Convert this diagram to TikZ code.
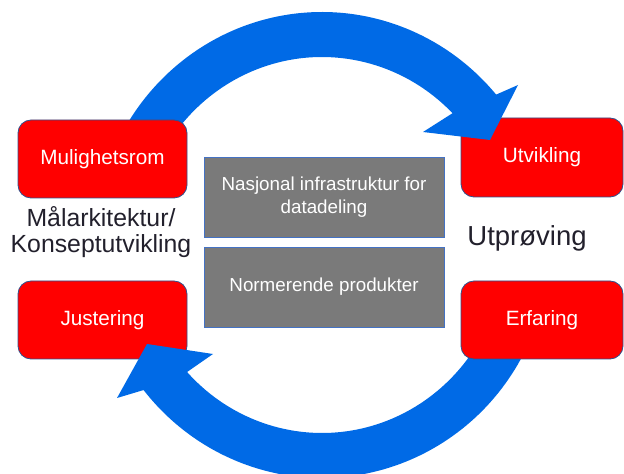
\documentclass[tikz,border=0pt]{standalone}
\usepackage{fontspec}
\setmainfont{Liberation Sans}
\usetikzlibrary{calc}
\definecolor{cycleblue}{RGB}{0,106,230}
\definecolor{boxred}{RGB}{255,0,0}
\definecolor{rededge}{RGB}{47,82,143}
\definecolor{panelgray}{RGB}{122,122,122}
\definecolor{paneledge}{RGB}{68,114,196}
\definecolor{labeltext}{RGB}{34,32,44}
\begin{document}
\begin{tikzpicture}[x=1pt,y=1pt,
  phase/.style={fill=boxred,draw=rededge,line width=0.8pt,rounded corners=13pt},
  phasetext/.style={text=white,font=\fontsize{20.7}{24}\selectfont},
  panel/.style={fill=panelgray,draw=paneledge,line width=0.8pt},
  paneltext/.style={text=white,align=center,font=\fontsize{18.8}{23}\selectfont},
  steptext/.style={text=labeltext,align=center}]
\useasboundingbox (0,0) rectangle (624,474);
\coordinate (C) at (322,229);

% boxes that the arrow heads lie on
\draw[phase] (461,277) rectangle (623,356);
\node[phasetext] (utv) at (542,316.5) {Utvikling};
\draw[phase] (18,115) rectangle (187,193);
\node[phasetext] (just) at (102.5,154) {Justering};

% upper cycle arrow
\fill[cycleblue] ($(C)+(155:228pt and 233pt)$)
  arc[start angle=155,end angle=40.2,x radius=228pt,y radius=233pt]
  -- (518,389) -- (490,334) -- (423,342)
  -- ($(C)+(44.5:183pt and 188pt)$)
  arc[start angle=44.5,end angle=155,x radius=183pt,y radius=188pt]
  -- cycle;

% lower cycle arrow
\fill[cycleblue] ($(C)+(-25:228pt and 233pt)$)
  arc[start angle=-25,end angle=-141.5,x radius=228pt,y radius=233pt]
  -- (117,76) -- (147,130) -- (213,120)
  -- ($(C)+(-137.5:183pt and 188pt)$)
  arc[start angle=-137.5,end angle=-25,x radius=183pt,y radius=188pt]
  -- cycle;

% boxes that cover the arrow tails
\draw[phase] (18,276) rectangle (187,354);
\node[phasetext] (mul) at (102.5,315) {Mulighetsrom};
\draw[phase] (461,115) rectangle (623,193);
\node[phasetext] (erf) at (542,154) {Erfaring};

% central panels
\draw[panel] (204,237) rectangle (444,317);
\node[paneltext] (infra) at (324,277) {Nasjonal infrastruktur for\\datadeling};
\draw[panel] (204,147) rectangle (444,227);
\node[paneltext] (norm) at (324,187) {Normerende produkter};

% side labels
\node[steptext,font=\fontsize{24.8}{26.5}\selectfont] (mal) at (101,242) {Målarkitektur/\\Konseptutvikling};
\node[steptext,font=\fontsize{27.5}{30}\selectfont] (utp) at (527,236) {Utprøving};
\end{tikzpicture}
\end{document}
